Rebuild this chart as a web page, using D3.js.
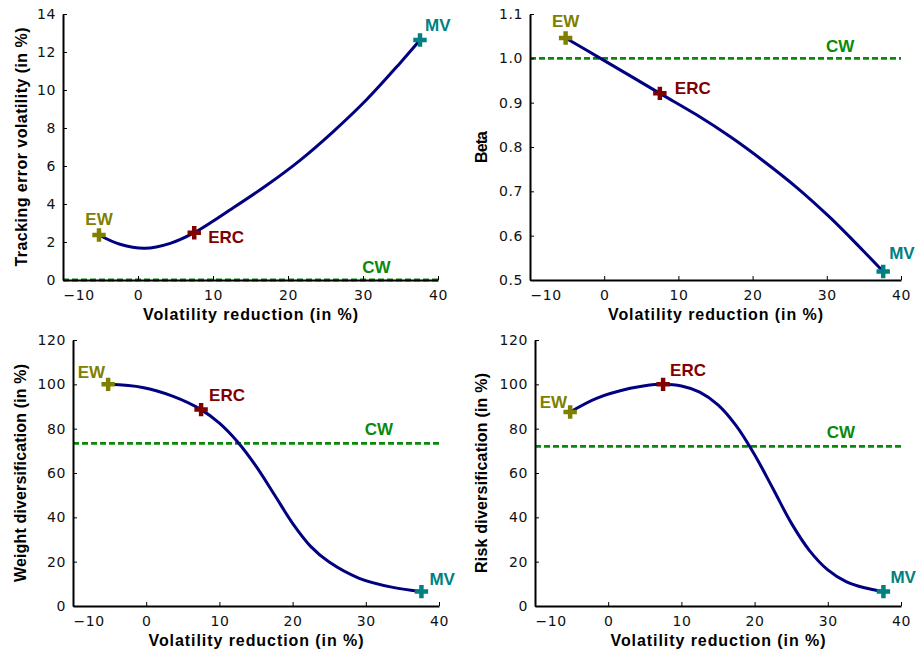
<!DOCTYPE html>
<html>
<head>
<meta charset="utf-8">
<script src="https://cdn.jsdelivr.net/npm/d3@7"></script>
<style>
  html, body { margin: 0; padding: 0; background: #ffffff; }
  svg { display: block; }
</style>
</head>
<body>
<svg id="chart" width="919" height="653"></svg>
<script>
// ---------------- DATA ----------------
const xTickValues = [-10, 0, 10, 20, 30, 40];
const xTickLabels = ["\u221210", "0", "10", "20", "30", "40"];
const xTitle = "Volatility reduction (in %)";

const portfolios = ["EW", "ERC", "MV"];
const portfolioVolRed = [-5.2, 7.5, 37.6];
const benchmarkName = "CW";

// Panel 1: tracking error volatility
const teX = [-5.2, -2.4, 0.9, 4.3, 7.5, 12.7, 17.2, 21.6, 26.0, 30.5, 34.9, 37.6];
const teY = [2.37, 1.88, 1.67, 1.93, 2.49, 3.8, 5.0, 6.3, 7.8, 9.5, 11.4, 12.63];
const tePoints = [2.37, 2.49, 12.63];
const teCW = 0;
const teTicks = [0, 2, 4, 6, 8, 10, 12, 14];
const teTickLabels = ["0", "2", "4", "6", "8", "10", "12", "14"];

// Panel 2: beta
const betaX = [-5.2, -0.5, 7.5, 12.5, 17.0, 21.5, 26.0, 30.5, 34.9, 37.6];
const betaY = [1.046, 1.0, 0.921, 0.872, 0.823, 0.768, 0.708, 0.640, 0.566, 0.519];
const betaPoints = [1.046, 0.921, 0.519];
const betaCW = 1.0;
const betaTicks = [0.5, 0.6, 0.7, 0.8, 0.9, 1.0, 1.1];
const betaTickLabels = ["0.5", "0.6", "0.7", "0.8", "0.9", "1.0", "1.1"];

// Panel 3: weight diversification
const wdX = [-5.2, -0.5, 3.6, 7.5, 10.0, 12.5, 15.0, 17.5, 20.0, 22.5, 25.0, 29.1, 33.7, 37.6];
const wdY = [100, 98.6, 94.7, 88.6, 82.5, 74.0, 63.1, 50.3, 37.3, 26.8, 19.8, 12.5, 8.4, 6.5];
const wdPoints = [100, 88.6, 6.5];
const wdCW = 73.4;
const divTicks = [0, 20, 40, 60, 80, 100, 120];
const divTickLabels = ["0", "20", "40", "60", "80", "100", "120"];

// Panel 4: risk diversification
const rdX = [-5.2, -1.6, 3.0, 5.0, 7.5, 10.0, 12.5, 15.0, 17.5, 20.0, 22.5, 25.0, 27.5, 30.0, 32.5, 35.0, 37.6];
const rdY = [87.5, 93.7, 98.2, 99.4, 100, 99.25, 96.5, 90.75, 81.25, 68.25, 53.0, 37.5, 25.0, 16.3, 11.0, 8.2, 6.5];
const rdPoints = [87.5, 100, 6.5];
const rdCW = 72.0;

const yTitles = ["Tracking error volatility (in %)", "Beta", "Weight diversification (in %)", "Risk diversification (in %)"];
const cwLabelX = 31.8;

// ---------------- STYLE / LAYOUT ----------------
const colors = { EW: "#808000", ERC: "#800000", MV: "#008080", CW: "#0a8a0a", curve: "#000080" };
const layouts = [
  { left: 63, right: 438, top: 14, bottom: 280, yTitleX: 21, xTitleY: 314, yTitleW: 239,
    off: { EW: [0, -15, "middle"], ERC: [14, 5, "start"], MV: [5, -15, "start"] }, cwDy: -13 },
  { left: 530, right: 901, top: 14, bottom: 280, yTitleX: 481, xTitleY: 314, yTitleW: 32,
    off: { EW: [0, -16, "middle"], ERC: [15, -5, "start"], MV: [6, -18, "start"] }, cwDy: -12 },
  { left: 73, right: 439, top: 340, bottom: 606, yTitleX: 20, xTitleY: 640, yTitleW: 218,
    off: { EW: [-3, -12, "end"], ERC: [8, -14, "start"], MV: [8, -12, "start"] }, cwDy: -14 },
  { left: 535, right: 901, top: 340, bottom: 606, yTitleX: 481, xTitleY: 640, yTitleW: 200,
    off: { EW: [-3, -10, "end"], ERC: [7, -14, "start"], MV: [7, -14, "start"] }, cwDy: -14 }
];

const panelsData = [
  { xs: teX, ys: teY, pts: tePoints, cw: teCW, domain: [0, 14], ticks: teTicks, tickLabels: teTickLabels },
  { xs: betaX, ys: betaY, pts: betaPoints, cw: betaCW, domain: [0.5, 1.1], ticks: betaTicks, tickLabels: betaTickLabels },
  { xs: wdX, ys: wdY, pts: wdPoints, cw: wdCW, domain: [0, 120], ticks: divTicks, tickLabels: divTickLabels },
  { xs: rdX, ys: rdY, pts: rdPoints, cw: rdCW, domain: [0, 120], ticks: divTicks, tickLabels: divTickLabels }
];

const tickFont = "'DejaVu Sans', sans-serif";
const titleFont = "'Liberation Sans', Arial, sans-serif";

const svg = d3.select("#chart");
svg.append("rect").attr("width", 919).attr("height", 653).attr("fill", "#fff");

panelsData.forEach((pd, pi) => {
  const L = layouts[pi];
  const x = d3.scaleLinear().domain([-10, 40]).range([L.left, L.right]);
  const y = d3.scaleLinear().domain(pd.domain).range([L.bottom, L.top]);
  const g = svg.append("g");

  // CW dashed benchmark line
  g.append("line")
    .attr("x1", x(-10)).attr("x2", x(40))
    .attr("y1", y(pd.cw)).attr("y2", y(pd.cw))
    .attr("stroke", colors.CW).attr("stroke-width", 2.8)
    .attr("stroke-dasharray", "6,3");

  // curve
  const pts = pd.xs.map((v, i) => [v, pd.ys[i]]);
  const line = d3.line().x(d => x(d[0])).y(d => y(d[1])).curve(d3.curveCatmullRom.alpha(0.5));
  g.append("path").datum(pts)
    .attr("d", line).attr("fill", "none")
    .attr("stroke", colors.curve).attr("stroke-width", 3)
    .attr("stroke-linecap", "round");

  // axes
  const yAxis = d3.axisLeft(y).tickValues(pd.ticks)
    .tickFormat((d, i) => pd.tickLabels[i]).tickSize(-4).tickSizeOuter(0).tickPadding(7);
  const xAxis = d3.axisBottom(x).tickValues(xTickValues)
    .tickFormat((d, i) => xTickLabels[i]).tickSize(-4).tickSizeOuter(0).tickPadding(7);

  const ga = g.append("g").attr("transform", `translate(${L.left},0)`).call(yAxis);
  const gb = g.append("g").attr("transform", `translate(0,${L.bottom})`).call(xAxis);
  [ga, gb].forEach(a => {
    a.select(".domain").attr("stroke", "#000").attr("stroke-width", 2);
    a.selectAll(".tick line").attr("stroke", "#000").attr("stroke-width", 1);
    a.selectAll(".tick text").attr("font-family", tickFont).attr("font-size", 14)
      .attr("fill", "#111").attr("letter-spacing", "0.6px");
  });
  gb.selectAll(".tick text").attr("dy", "0.9em");
  gb.selectAll(".tick text").filter((d, i) => i === 0)
    .attr("text-anchor", "start").attr("x", 0);

  // axis titles
  g.append("text")
    .attr("x", (L.left + L.right) / 2).attr("y", L.xTitleY)
    .attr("text-anchor", "middle").attr("dominant-baseline", "central")
    .attr("font-family", titleFont).attr("font-weight", "bold").attr("font-size", 16)
    .attr("textLength", 215).attr("lengthAdjust", "spacing")
    .text(xTitle);
  g.append("text")
    .attr("transform", `translate(${L.yTitleX},${(L.top + L.bottom) / 2}) rotate(-90)`)
    .attr("text-anchor", "middle").attr("dominant-baseline", "central")
    .attr("font-family", titleFont).attr("font-weight", "bold").attr("font-size", 16)
    .attr("textLength", L.yTitleW).attr("lengthAdjust", "spacing")
    .text(yTitles[pi]);

  // CW label
  g.append("text")
    .attr("x", x(cwLabelX)).attr("y", y(pd.cw) + L.cwDy)
    .attr("text-anchor", "middle").attr("dominant-baseline", "central")
    .attr("font-family", titleFont).attr("font-weight", "bold").attr("font-size", 17)
    .attr("fill", colors.CW).text(benchmarkName);

  // portfolio markers and labels
  const cross = d3.symbol().type(d3.symbolCross).size(100);
  portfolios.forEach((name, k) => {
    const px = x(portfolioVolRed[k]), py = y(pd.pts[k]);
    g.append("path").attr("d", cross())
      .attr("transform", `translate(${px},${py})`)
      .attr("fill", colors[name]);
    const o = L.off[name];
    g.append("text")
      .attr("x", px + o[0]).attr("y", py + o[1])
      .attr("text-anchor", o[2]).attr("dominant-baseline", "central")
      .attr("font-family", titleFont).attr("font-weight", "bold").attr("font-size", 17)
      .attr("fill", colors[name]).text(name);
  });
});
</script>
</body>
</html>
